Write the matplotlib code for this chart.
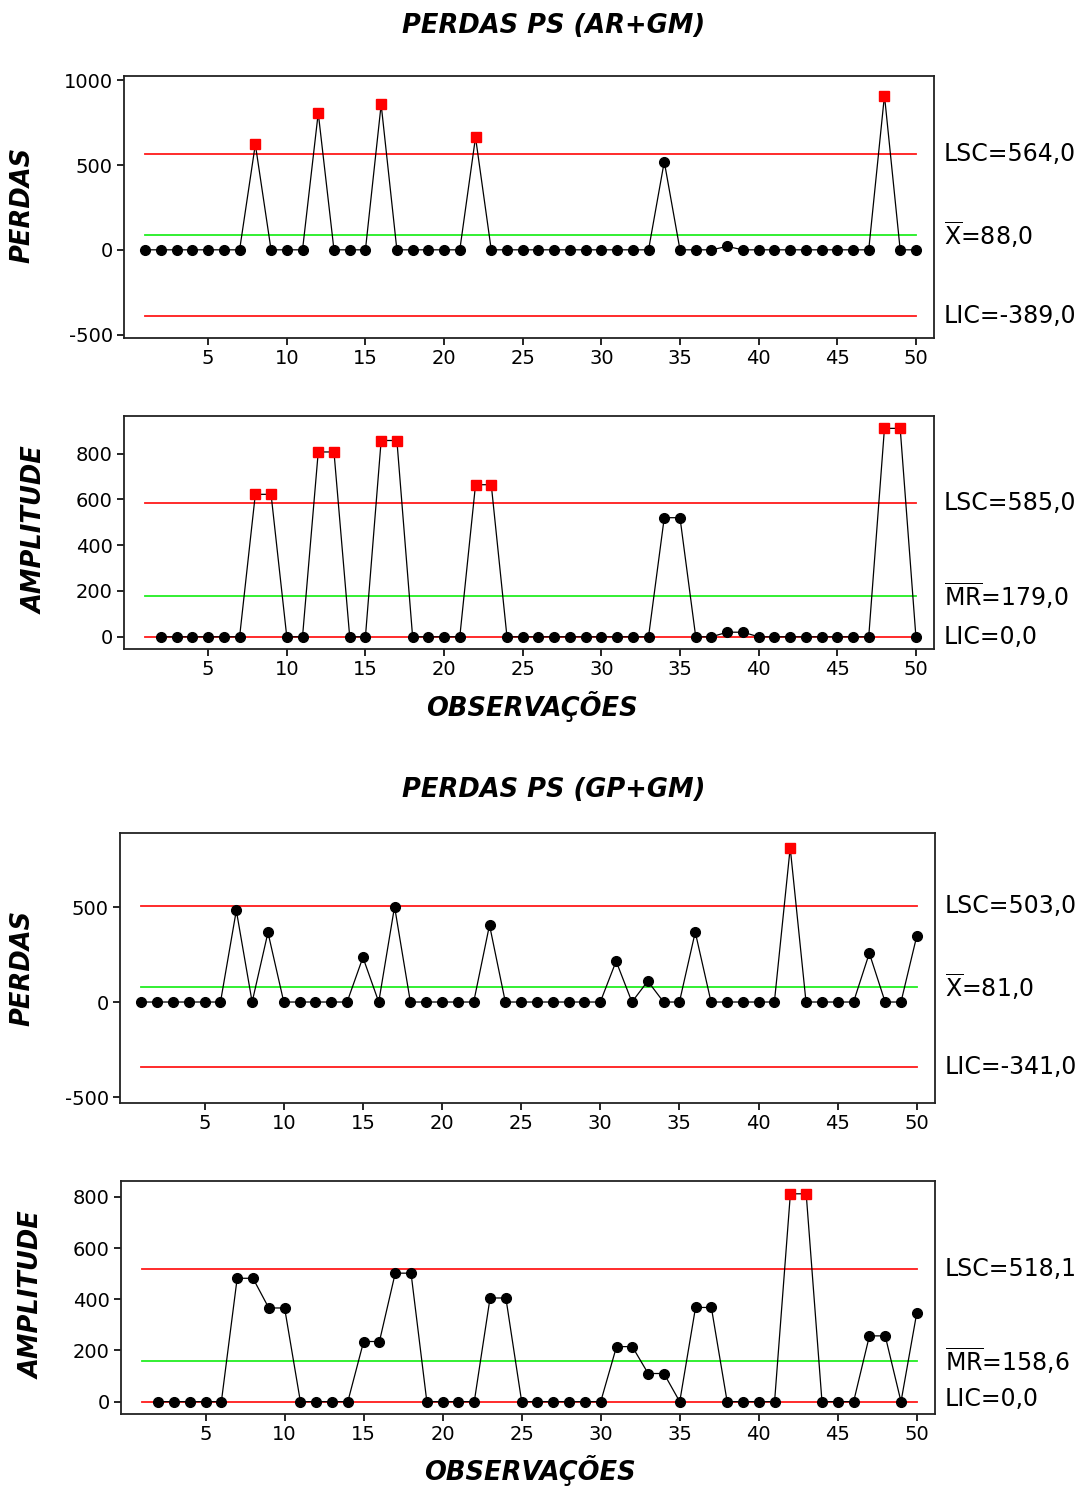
import numpy as np
import matplotlib
matplotlib.use('Agg')
import matplotlib.pyplot as plt

plt.rcParams['axes.unicode_minus'] = False

# observations 1..50
obs = np.arange(1, 51)

# PERDAS PS (AR+GM): non-zero observations, everything else is 0
ar_idx = [8, 12, 16, 22, 34, 38, 48]
ar_val = [622, 807, 857, 664, 520, 20, 910]

# PERDAS PS (GP+GM)
gp_idx = [7, 9, 15, 17, 23, 31, 33, 36, 42, 47, 50]
gp_val = [482, 366, 235, 502, 405, 215, 110, 368, 812, 257, 348]

# control limits (LSC, centre, LIC) as printed on the chart
ar_lim = [564.0, 88.0, -389.0]
ar_mr_lim = [585.0, 179.0, 0.0]
gp_lim = [503.0, 81.0, -341.0]
gp_mr_lim = [518.1, 158.6, 0.0]

ar_lbl = ['LSC=564,0', r'$\overline{\mathrm{X}}$=88,0', 'LIC=-389,0']
ar_mr_lbl = ['LSC=585,0', r'$\overline{\mathrm{MR}}$=179,0', 'LIC=0,0']
gp_lbl = ['LSC=503,0', r'$\overline{\mathrm{X}}$=81,0', 'LIC=-341,0']
gp_mr_lbl = ['LSC=518,1', r'$\overline{\mathrm{MR}}$=158,6', 'LIC=0,0']


def series(idx, val):
    y = np.zeros(len(obs))
    for i, v in zip(idx, val):
        y[i - 1] = v
    return y


ar = series(ar_idx, ar_val)
gp = series(gp_idx, gp_val)
ar_mr = np.abs(np.diff(ar))
gp_mr = np.abs(np.diff(gp))

W, H = 1090, 1486
fig = plt.figure(figsize=(W / 100, H / 100), dpi=100)
fig.patch.set_facecolor('white')

RED = '#ff1a1a'
GREEN = '#22ee22'


def chart(rect, x, y, lims, lbls, ylim, yticks, lbl_off=(0, 0, 0)):
    ax = fig.add_axes(rect)
    for lv, c in zip(lims, [RED, GREEN, RED]):
        ax.plot([1, 50], [lv, lv], color=c, lw=1.3, zorder=1)
    ax.plot(x, y, color='black', lw=0.9, zorder=2)
    out = (y > lims[0]) | (y < lims[2])
    ax.plot(x[~out], y[~out], 'o', color='black', ms=7, zorder=3)
    ax.plot(x[out], y[out], 's', color='red', ms=6.5, zorder=3)
    ax.set_xlim(-0.35, 51.15)
    ax.set_ylim(*ylim)
    ax.set_xticks(np.arange(5, 51, 5))
    ax.set_yticks(yticks)
    ax.tick_params(direction='out', length=5, width=1.2, labelsize=14, pad=3)
    for s in ax.spines.values():
        s.set_linewidth(1.3)
        s.set_color('#222222')
    for lv, t, off in zip(lims, lbls, lbl_off):
        ax.text(1.012, lv + off, t, transform=ax.get_yaxis_transform(),
                ha='left', va='center', fontsize=17, clip_on=False)
    return ax


def frac(l, t, r, b):
    return [l / W, 1 - b / H, (r - l) / W, (b - t) / H]


chart(frac(124, 76, 934, 338), obs, ar, ar_lim, ar_lbl, (-520, 1025),
      [-500, 0, 500, 1000])
chart(frac(124, 416, 934, 648.7), obs[1:], ar_mr, ar_mr_lim, ar_mr_lbl,
      (-52, 964), [0, 200, 400, 600, 800])
chart(frac(120, 832.7, 935, 1103.3), obs, gp, gp_lim, gp_lbl, (-533, 891),
      [-500, 0, 500])
chart(frac(121, 1181, 935, 1413.7), obs[1:], gp_mr, gp_mr_lim, gp_mr_lbl,
      (-47, 862), [0, 200, 400, 600, 800], lbl_off=(0, 0, 12))

bi = dict(fontsize=18.5, fontweight='bold', fontstyle='italic', ha='center', va='center')
fig.text(554 / W, 1 - 26 / H, 'PERDAS PS (AR+GM)', **bi)
fig.text(554 / W, 1 - 790 / H, 'PERDAS PS (GP+GM)', **bi)
fig.text(22 / W, 1 - 205 / H, 'PERDAS', rotation=90, **bi)
fig.text(36 / W, 1 - 530 / H, 'AMPLITUDE', rotation=90, **bi)
fig.text(22 / W, 1 - 968 / H, 'PERDAS', rotation=90, **bi)
fig.text(33 / W, 1 - 1295 / H, 'AMPLITUDE', rotation=90, **bi)
fig.text(532 / W, 1 - 706 / H, 'OBSERVAÇÕES', **bi)
fig.text(530 / W, 1 - 1470 / H, 'OBSERVAÇÕES', **bi)

fig.savefig('out.png', dpi=100)
